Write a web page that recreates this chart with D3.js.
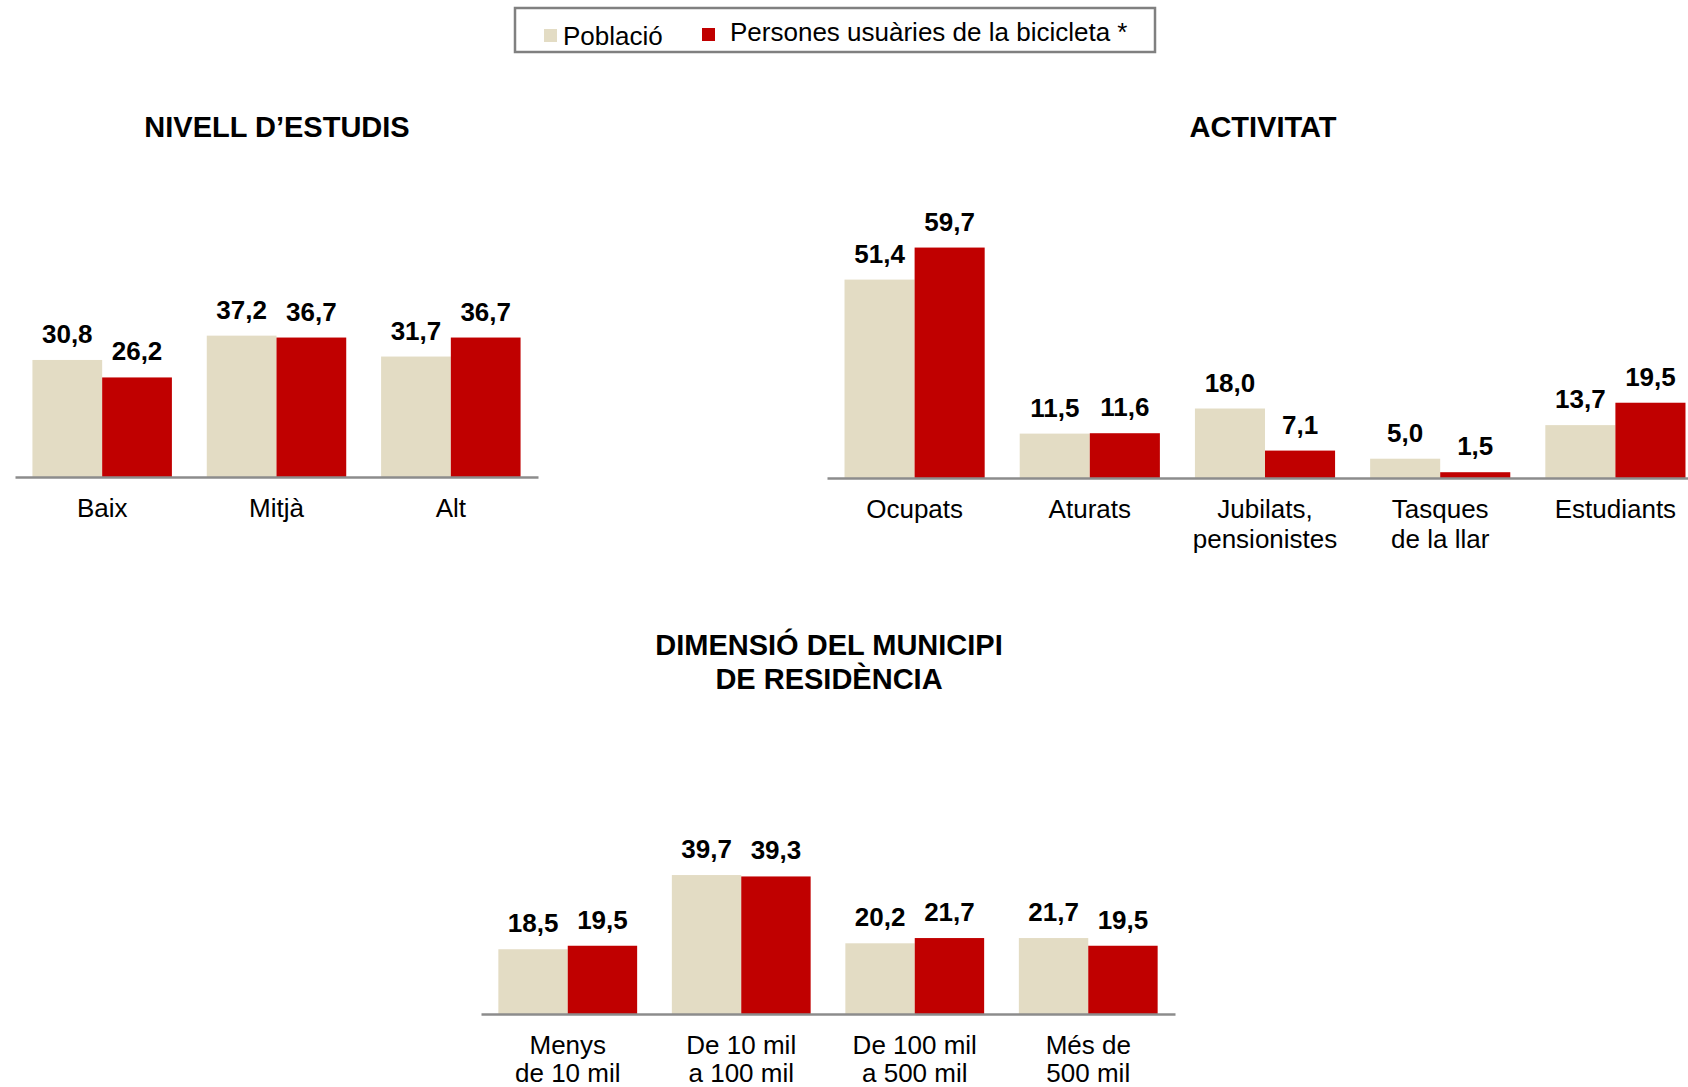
<!DOCTYPE html>
<html>
<head>
<meta charset="utf-8">
<script src="https://cdn.jsdelivr.net/npm/d3@7"></script>
<style>
  html, body { margin: 0; padding: 0; background: #fff; }
  svg { display: block; font-family: "Liberation Sans", Arial, Helvetica, sans-serif; }
</style>
</head>
<body>
<svg id="chart" width="1688" height="1087"></svg>
<script>
// ---- Data ----
const seriesNames = ["Població", "Persones usuàries de la bicicleta *"];

const estudisTitle = ["NIVELL D\u2019ESTUDIS"];
const estudisCats = ["Baix", "Mitjà", "Alt"];
const estudisPoblacio = [30.8, 37.2, 31.7];
const estudisUsuaris = [26.2, 36.7, 36.7];

const activitatTitle = ["ACTIVITAT"];
const activitatCats = ["Ocupats", "Aturats", "Jubilats,\npensionistes", "Tasques\nde la llar", "Estudiants"];
const activitatPoblacio = [51.4, 11.5, 18.0, 5.0, 13.7];
const activitatUsuaris = [59.7, 11.6, 7.1, 1.5, 19.5];

const municipiTitle = ["DIMENSIÓ DEL MUNICIPI", "DE RESIDÈNCIA"];
const municipiCats = ["Menys\nde 10 mil", "De 10 mil\na 100 mil", "De 100 mil\na 500 mil", "Més de\n500 mil"];
const municipiPoblacio = [18.5, 39.7, 20.2, 21.7];
const municipiUsuaris = [19.5, 39.3, 21.7, 19.5];

// ---- Styles ----
const colors = ["#E3DCC4", "#C00000"];
const svg = d3.select("#chart");
const locale = d3.formatLocale({decimal: ",", thousands: ".", grouping: [3], currency: ["", "€"]});
const fmt = locale.format(".1f");

function drawChart(cfg) {
  const g = svg.append("g");
  const x = d3.scaleBand().domain(cfg.cats).range([cfg.x0, cfg.x1]).paddingInner(0.2).paddingOuter(0.1);
  const xs = d3.scaleBand().domain([0, 1]).range([0, x.bandwidth()]);
  const y = d3.scaleLinear().domain([0, 100]).range([cfg.axisY, cfg.axisY - cfg.pxPerUnit * 100]);

  const rows = cfg.cats.map((c, i) => ({cat: c, vals: [cfg.pob[i], cfg.usu[i]]}));
  const grp = g.selectAll("g.grp").data(rows).join("g")
    .attr("transform", d => `translate(${x(d.cat)},0)`);

  grp.selectAll("rect").data(d => d.vals.map((v, k) => ({v, k}))).join("rect")
    .attr("x", d => xs(d.k))
    .attr("width", xs.bandwidth())
    .attr("y", d => y(d.v))
    .attr("height", d => y(0) - y(d.v))
    .attr("fill", d => colors[d.k]);

  grp.selectAll("text.val").data(d => d.vals.map((v, k) => ({v, k}))).join("text")
    .attr("class", "val")
    .attr("x", d => xs(d.k) + xs.bandwidth() / 2)
    .attr("y", d => y(d.v) - 17)
    .attr("text-anchor", "middle")
    .attr("font-weight", "bold")
    .attr("font-size", 26)
    .attr("fill", "#000")
    .text(d => fmt(d.v));

  const axis = g.append("g").attr("transform", `translate(0,${cfg.axisY})`)
    .call(d3.axisBottom(x).tickSize(0).tickSizeOuter(0));
  axis.select(".domain").attr("stroke", "#8c8c8c").attr("stroke-width", 2.5);
  axis.selectAll(".tick text").each(function(d) {
    const t = d3.select(this).text(null).attr("dy", null).attr("y", null)
      .attr("font-size", 26).attr("fill", "#000")
      .attr("font-family", "\"Liberation Sans\", Arial, sans-serif");
    d.split("\n").forEach((line, i) => {
      t.append("tspan").attr("x", 0).attr("y", cfg.labelY + i * cfg.lineH).text(line);
    });
  });

  cfg.title.forEach((line, i) => {
    g.append("text")
      .attr("x", cfg.titleX)
      .attr("y", cfg.titleY + i * 34)
      .attr("text-anchor", "middle")
      .attr("font-weight", "bold")
      .attr("font-size", 29)
      .text(line);
  });
}

drawChart({cats: estudisCats, pob: estudisPoblacio, usu: estudisUsuaris, title: estudisTitle,
  x0: 15, x1: 538, axisY: 477, pxPerUnit: 3.80, titleY: 137, titleX: 277, labelY: 40, lineH: 29.5});
drawChart({cats: activitatCats, pob: activitatPoblacio, usu: activitatUsuaris, title: activitatTitle,
  x0: 827, x1: 1703, axisY: 478, pxPerUnit: 3.86, titleY: 137, titleX: 1263, labelY: 40, lineH: 29.5});
drawChart({cats: municipiCats, pob: municipiPoblacio, usu: municipiUsuaris, title: municipiTitle,
  x0: 481, x1: 1175, axisY: 1014, pxPerUnit: 3.50, titleY: 655, titleX: 829, labelY: 39.5, lineH: 28});

// ---- Legend ----
const lg = svg.append("g");
lg.append("rect").attr("x", 515).attr("y", 8).attr("width", 640).attr("height", 44)
  .attr("fill", "#fff").attr("stroke", "#808080").attr("stroke-width", 2.5);
const legendItems = [
  {name: seriesNames[0], color: colors[0], sx: 544, sy: 29, tx: 563, ty: 45},
  {name: seriesNames[1], color: colors[1], sx: 702, sy: 28, tx: 730, ty: 41}
];
legendItems.forEach(it => {
  lg.append("rect").attr("x", it.sx).attr("y", it.sy).attr("width", 13).attr("height", 13).attr("fill", it.color);
  lg.append("text").attr("x", it.tx).attr("y", it.ty).attr("font-size", 26).text(it.name);
});
</script>
</body>
</html>
